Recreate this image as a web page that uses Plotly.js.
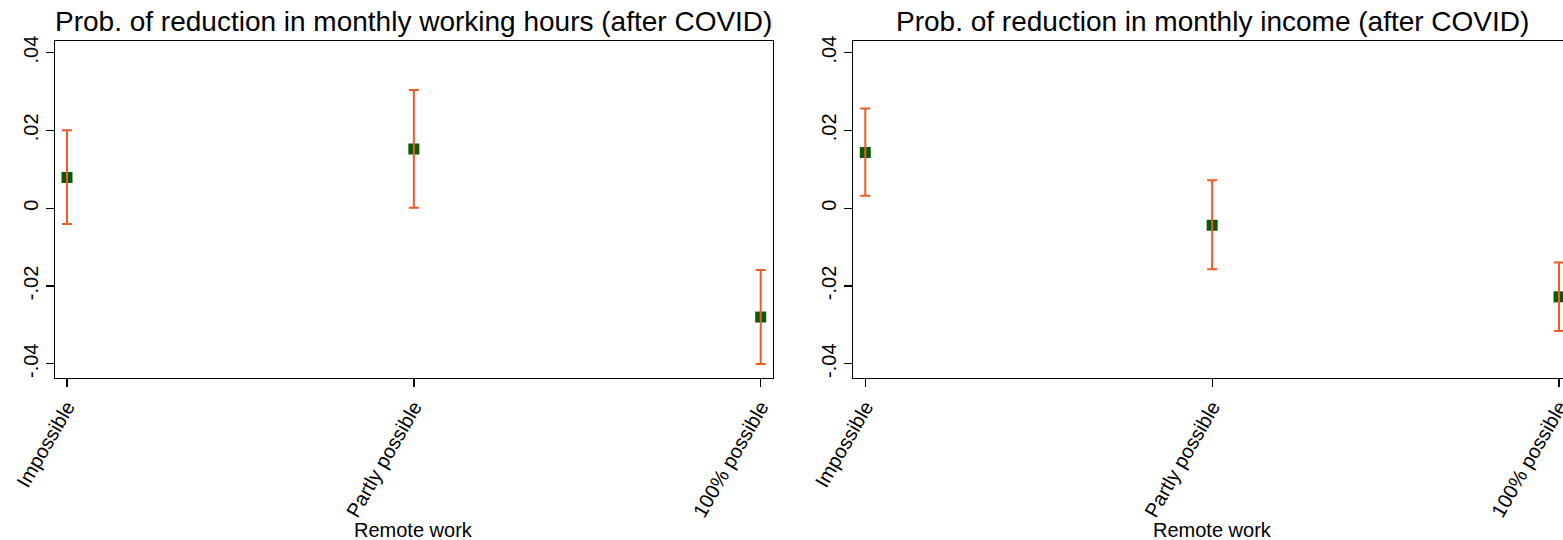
<!DOCTYPE html>
<html>
<head>
<meta charset="utf-8">
<script src="https://cdn.plot.ly/plotly-3.0.1.min.js"></script>
<style>
  html, body { margin: 0; padding: 0; overflow: hidden; background: #ffffff; }
  #chart { width: 1600px; height: 540px; }
</style>
</head>
<body>
<div id="chart"></div>
<script>
// Remote-work categories on the x axis
const categories = ["Impossible", "Partly possible", "100% possible"];

// Working hours: point estimates and 95% interval bounds
const hoursEst = [0.0079, 0.0152, -0.0280];
const hoursLo  = [-0.0041, 0.0001, -0.0401];
const hoursHi  = [0.0200, 0.0304, -0.0159];

// Monthly income: point estimates and 95% interval bounds
const incomeEst = [0.0143, -0.0044, -0.0228];
const incomeLo  = [0.0032, -0.0157, -0.0316];
const incomeHi  = [0.0256, 0.0072, -0.0140];

// Y tick values and their labels
const yTickVals   = [-0.04, -0.02, 0, 0.02, 0.04];
const yTickLabels = ["-.04", "-.02", "0", ".02", ".04"];

const panelTitles = [
  "Prob. of reduction in monthly working hours (after COVID)",
  "Prob. of reduction in monthly income (after COVID)"
];
const xTitle = "Remote work";

const FONT = "Liberation Sans, Arial, Helvetica, sans-serif";
const GREEN = "#0a5a0a";
const ORANGE = "#f25a24";

function markerTrace(est, xa, ya) {
  return {
    x: categories, y: est, xaxis: xa, yaxis: ya,
    type: "scatter", mode: "markers",
    marker: { symbol: "square", size: 11, color: GREEN, line: { width: 0 } },
    hoverinfo: "skip", showlegend: false
  };
}

function ciTrace(est, lo, hi, xa, ya) {
  return {
    x: categories, y: est, xaxis: xa, yaxis: ya,
    type: "scatter", mode: "markers",
    marker: { size: 1, opacity: 0 },
    error_y: {
      type: "data", symmetric: false,
      array: hi.map((h, i) => h - est[i]),
      arrayminus: lo.map((l, i) => est[i] - l),
      color: ORANGE, thickness: 2, width: 5
    },
    hoverinfo: "skip", showlegend: false
  };
}

const data = [
  markerTrace(hoursEst, "x", "y"),
  ciTrace(hoursEst, hoursLo, hoursHi, "x", "y"),
  markerTrace(incomeEst, "x2", "y2"),
  ciTrace(incomeEst, incomeLo, incomeHi, "x2", "y2")
];

const W = 1600;
const leftDomain  = [55 / W, 772.7 / W];
const rightDomain = [853.3 / W, 1571 / W];

function xAxis(domain, anchor) {
  return {
    domain: domain, anchor: anchor,
    type: "category",
    range: [-0.0346, 2.0346],
    showline: true, linecolor: "#000000", linewidth: 1.3, mirror: true,
    ticks: "outside", ticklen: 8, tickwidth: 1.3, tickcolor: "#000000",
    tickangle: -60,
    tickfont: { family: FONT, size: 20, color: "#000000" },
    showgrid: false, zeroline: false, fixedrange: true
  };
}

function yAxis(anchor) {
  return {
    anchor: anchor,
    range: [-0.04367, 0.04298],
    tickmode: "array", tickvals: yTickVals, ticktext: yTickLabels,
    showline: true, linecolor: "#000000", linewidth: 1.3, mirror: true,
    ticks: "outside", ticklen: 8, tickwidth: 1.3, tickcolor: "#000000",
    tickangle: -90,
    tickfont: { family: FONT, size: 20, color: "#000000" },
    showgrid: false, zeroline: false, fixedrange: true
  };
}

const titleY = 1.0585;
const xTitleY = -0.4504;

const layout = {
  width: W, height: 540,
  margin: { l: 0, r: 0, t: 41, b: 162 },
  paper_bgcolor: "#ffffff", plot_bgcolor: "#ffffff",
  font: { family: FONT, color: "#000000" },
  showlegend: false,
  xaxis: xAxis(leftDomain, "y"),
  yaxis: yAxis("x"),
  xaxis2: xAxis(rightDomain, "y2"),
  yaxis2: yAxis("x2"),
  annotations: [
    { text: panelTitles[0], xref: "paper", yref: "paper",
      x: (leftDomain[0] + leftDomain[1]) / 2, y: titleY,
      xanchor: "center", yanchor: "middle", showarrow: false,
      font: { family: FONT, size: 28, color: "#000000" } },
    { text: panelTitles[1], xref: "paper", yref: "paper",
      x: (rightDomain[0] + rightDomain[1]) / 2, y: titleY,
      xanchor: "center", yanchor: "middle", showarrow: false,
      font: { family: FONT, size: 28, color: "#000000" } },
    { text: xTitle, xref: "paper", yref: "paper",
      x: (leftDomain[0] + leftDomain[1]) / 2, y: xTitleY,
      xanchor: "center", yanchor: "middle", showarrow: false,
      font: { family: FONT, size: 20, color: "#000000" } },
    { text: xTitle, xref: "paper", yref: "paper",
      x: (rightDomain[0] + rightDomain[1]) / 2, y: xTitleY,
      xanchor: "center", yanchor: "middle", showarrow: false,
      font: { family: FONT, size: 20, color: "#000000" } }
  ]
};

Plotly.newPlot("chart", data, layout, { staticPlot: true, displayModeBar: false });
</script>
</body>
</html>
